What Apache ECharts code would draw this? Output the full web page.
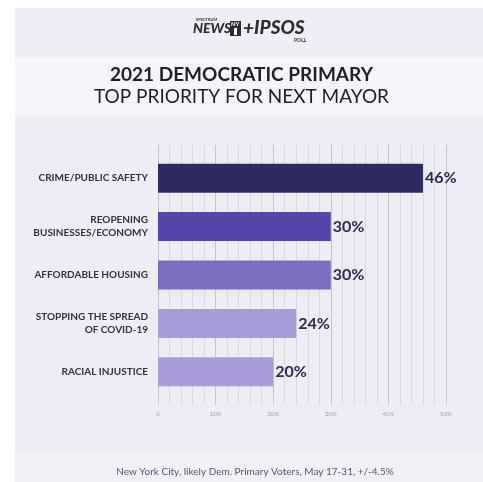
<!DOCTYPE html>
<html>
<head>
<meta charset="utf-8">
<script src="https://cdn.jsdelivr.net/npm/echarts@6/dist/echarts.min.js"></script>
<style>
  html, body { margin: 0; padding: 0; background: #ffffff; }
  #chart { width: 483px; height: 482px; }
</style>
</head>
<body>
<div id="chart"></div>
<script>
// Poll results: share naming each issue as the top priority
const categories = [
  'CRIME/PUBLIC SAFETY',
  'REOPENING\nBUSINESSES/ECONOMY',
  'AFFORDABLE HOUSING',
  'STOPPING THE SPREAD\nOF COVID-19',
  'RACIAL INJUSTICE'
];
const values = [46, 30, 30, 24, 20];
const barColors = ['#2e2a62', '#5645a8', '#7c6dc0', '#a79bd8', '#a99cd9'];
const tickLabels = ['0', '10%', '20%', '30%', '40%', '50%'];

const chart = echarts.init(document.getElementById('chart'), null, { renderer: 'canvas' });

const FONT = 'Lato, "Open Sans", sans-serif';

chart.setOption({
  animation: false,
  backgroundColor: '#ffffff',
  graphic: [
    // panel bands
    { type: 'rect', shape: { x: 15, y: 8, width: 468, height: 50 }, style: { fill: '#eeeff6' }, z: -10 },
    { type: 'rect', shape: { x: 15, y: 58, width: 468, height: 59 }, style: { fill: '#f4f4f9' }, z: -10 },
    { type: 'rect', shape: { x: 15, y: 117, width: 468, height: 335 }, style: { fill: '#ecedf5' }, z: -10 },
    { type: 'rect', shape: { x: 15, y: 452, width: 468, height: 30 }, style: { fill: '#f0f0f6' }, z: -10 },
    // logo
    { type: 'text', left: 196, top: 18, style: { text: 'SPECTRUM', font: 'bold 4px ' + FONT, fill: '#333333' } },
    { type: 'text', left: 193, top: 21, style: { text: 'NEWS', font: 'italic 900 14px ' + FONT, fill: '#2e2e2e' } },
    { type: 'rect', shape: { x: 230, y: 21, width: 11, height: 15 }, style: { fill: '#2e2e2e' } },
    { type: 'text', left: 231, top: 21, style: { text: 'NY', font: 'bold 6px ' + FONT, fill: '#ffffff' } },
    { type: 'rect', shape: { x: 234, y: 28, width: 3, height: 7 }, style: { fill: '#ffffff' } },
    { type: 'text', left: 243, top: 18, style: { text: '+IPSOS', font: 'italic 900 19px ' + FONT, fill: '#2e2e2e' } },
    { type: 'text', left: 294, top: 38, style: { text: 'POLL', font: 'bold 5px ' + FONT, fill: '#333333' } },
    // titles
    { type: 'text', left: 'center', top: 65, style: { text: '2021 DEMOCRATIC PRIMARY', font: 'bold 19px ' + FONT, fill: '#1f1f28', textAlign: 'center' } },
    { type: 'text', left: 'center', top: 87, style: { text: 'TOP PRIORITY FOR NEXT MAYOR', font: '19px ' + FONT, fill: '#1f1f28', textAlign: 'center' } },
    // footer
    { type: 'text', x: 255, y: 467, style: { text: 'New York City, likely Dem. Primary Voters, May 17-31, +/-4.5%', font: '10px ' + FONT, fill: '#555a66', align: 'center' } }
  ],
  grid: [
    // grid 0: vertical rules and the percentage scale
    { left: 158, right: 37, top: 145, bottom: 77 },
    // grid 1: the bars
    { left: 158, right: 37, top: 154, bottom: 86 }
  ],
  xAxis: [
    {
      gridIndex: 0, type: 'value', min: 0, max: 50, interval: 10,
      axisLine: { show: false }, axisTick: { show: false },
      axisLabel: {
        formatter: (v) => tickLabels[v / 10],
        color: '#a0a0ae', fontSize: 6, fontFamily: FONT, margin: 6
      },
      splitLine: { show: true, lineStyle: { color: '#c3c3cf', width: 1 } },
      minorTick: { show: false, splitNumber: 5 },
      minorSplitLine: { show: true, lineStyle: { color: '#d8d8e2', width: 1 } }
    },
    {
      gridIndex: 1, type: 'value', min: 0, max: 50, show: false,
      splitLine: { show: false }
    }
  ],
  yAxis: [
    { gridIndex: 0, type: 'value', show: false, splitLine: { show: false } },
    {
      gridIndex: 1, type: 'category', inverse: true, data: categories,
      axisLine: { show: false }, axisTick: { show: false },
      axisLabel: {
        color: '#33333d', fontSize: 10, fontWeight: 'bold', fontFamily: FONT,
        lineHeight: 13, margin: 10, align: 'right'
      }
    }
  ],
  series: [
    {
      type: 'bar', xAxisIndex: 1, yAxisIndex: 1,
      barWidth: 29,
      data: values.map((v, i) => ({ value: v, itemStyle: { color: barColors[i] } })),
      label: {
        show: true, position: 'right', distance: 2,
        formatter: '{c}%', color: '#2b2a50', fontSize: 16, fontWeight: 'bold', fontFamily: FONT
      }
    }
  ]
});
</script>
</body>
</html>
